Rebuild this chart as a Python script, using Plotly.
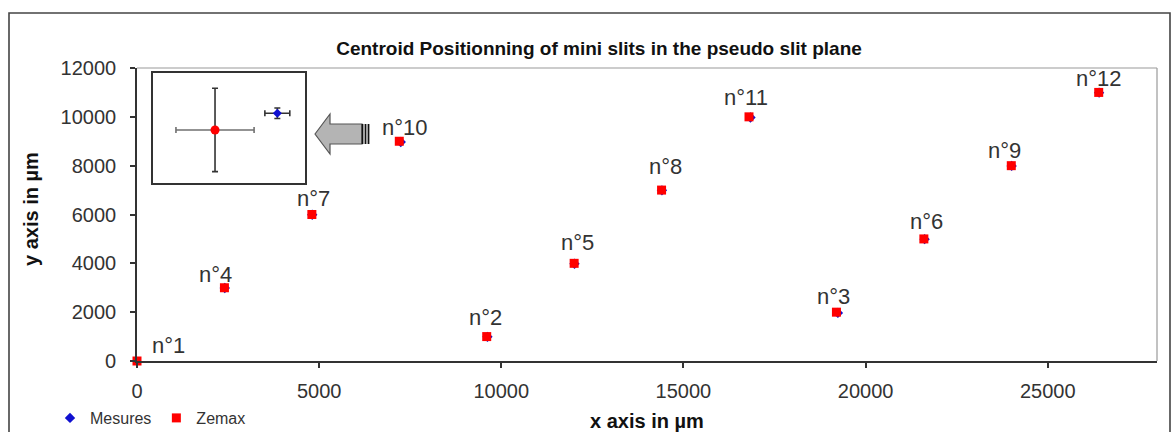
import plotly.graph_objects as go

# ---------------- data ----------------
slit_names = ["n°1", "n°2", "n°3", "n°4", "n°5", "n°6",
              "n°7", "n°8", "n°9", "n°10", "n°11", "n°12"]
zemax_x = [0, 9600, 19200, 2400, 12000, 21600, 4800, 14400, 24000, 7200, 16800, 26400]
zemax_y = [0, 1000, 2000, 3000, 4000, 5000, 6000, 7000, 8000, 9000, 10000, 11000]
mesures_x = [20, 9620, 19240, 2410, 12010, 21620, 4810, 14410, 24010, 7240, 16840, 26410]
mesures_y = [-10, 990, 1970, 2990, 3980, 4990, 5990, 6990, 7990, 8970, 9970, 10990]

x_ticks = [0, 5000, 10000, 15000, 20000, 25000]
x_tick_labels = ["0", "5000", "10000", "15000", "20000", "25000"]
y_ticks = [0, 2000, 4000, 6000, 8000, 10000, 12000]
y_tick_labels = ["0", "2000", "4000", "6000", "8000", "10000", "12000"]

# zoom inset (relative units)
inset_x = [0.408, 0.818]
inset_y = [0.482, 0.634]
inset_err_x = [0.257, 0.082]
inset_err_y = [0.379, 0.048]

# ---------------- layout helpers (pixel -> paper) ----------------
W, H = 1176, 432
L, R, T, B = 137, 19, 68, 71
PW, PH = W - L - R, H - T - B


def px_x(px):
    return (px - L) / PW


def px_y(py):
    return (H - B - py) / PH


# label offsets in px (dx right, dy up)
label_dx = [31, -1, -3, -9, 3, 3, 2, 4, -7, 6, -3, 0]
label_dy = [16, 19, 16, 13, 21, 17, 16, 24, 15, 14, 19, 14]

FONT = "Liberation Sans, Arial, sans-serif"
NARROW = "Liberation Sans Narrow, Liberation Sans, Arial, sans-serif"

fig = go.Figure()

fig.add_trace(go.Scatter(
    x=mesures_x, y=mesures_y, mode="markers", name="Mesures",
    marker=dict(symbol="diamond", size=8, color="#1010d0"),
    cliponaxis=False,
))
fig.add_trace(go.Scatter(
    x=zemax_x, y=zemax_y, mode="markers", name="Zemax",
    marker=dict(symbol="square", size=9, color="#ff0000"),
    cliponaxis=False,
))

# inset with error bars
fig.add_trace(go.Scatter(
    x=inset_x[:1], y=inset_y[:1], mode="markers", showlegend=False,
    xaxis="x2", yaxis="y2",
    marker=dict(symbol="circle", size=9, color="#ff0000"),
    error_x=dict(type="data", array=inset_err_x[:1], color="#707070", thickness=1.6, width=3),
    error_y=dict(type="data", array=inset_err_y[:1], color="#333333", thickness=1.6, width=3),
))
fig.add_trace(go.Scatter(
    x=inset_x[1:], y=inset_y[1:], mode="markers", showlegend=False,
    xaxis="x2", yaxis="y2",
    marker=dict(symbol="diamond", size=7, color="#1010d0"),
    error_x=dict(type="data", array=inset_err_x[1:], color="#333333", thickness=1.6, width=3),
    error_y=dict(type="data", array=inset_err_y[1:], color="#333333", thickness=1.6, width=3),
))

annotations = []
for name, x, y, dx, dy in zip(slit_names, zemax_x, zemax_y, label_dx, label_dy):
    annotations.append(dict(
        x=x, y=y, xref="x", yref="y", text=name, showarrow=False,
        xshift=dx, yshift=dy, xanchor="center", yanchor="middle",
        font=dict(family=FONT, size=22, color="#333333"),
    ))

annotations.append(dict(
    x=px_x(647), y=px_y(421), xref="paper", yref="paper",
    text="<b>x axis in µm</b>", showarrow=False, xanchor="center", yanchor="middle",
    font=dict(family=NARROW, size=20, color="#111111"),
))
annotations.append(dict(
    x=px_x(31), y=px_y(209), xref="paper", yref="paper",
    text="<b>y axis in µm</b>", showarrow=False, xanchor="center", yanchor="middle",
    textangle=-90,
    font=dict(family=NARROW, size=20, color="#111111"),
))

shapes = [
    # outer chart border
    dict(type="rect", xref="paper", yref="paper",
         x0=px_x(9), x1=px_x(1170), y0=px_y(450), y1=px_y(13),
         line=dict(color="#444444", width=1.6), layer="below"),
    # plot area top / right border
    dict(type="line", xref="paper", yref="paper", x0=0, x1=1, y0=1, y1=1,
         line=dict(color="#999999", width=1.2)),
    dict(type="line", xref="paper", yref="paper", x0=1, x1=1, y0=0, y1=1,
         line=dict(color="#999999", width=1.2)),
    # block arrow pointing left
    dict(type="path", xref="paper", yref="paper",
         path=("M {a},{b} L {c},{d} L {c},{e} L {f},{e} L {f},{g} L {c},{g} L {c},{h} Z").format(
             a=px_x(315), b=px_y(134),
             c=px_x(330), d=px_y(114),
             e=px_y(124), f=px_x(362),
             g=px_y(144), h=px_y(154)),
         fillcolor="#b4b4b4", line=dict(color="#555555", width=1.2)),
]
for xs in (362.5, 365.5, 368.5):
    shapes.append(dict(type="line", xref="paper", yref="paper",
                       x0=px_x(xs), x1=px_x(xs), y0=px_y(124), y1=px_y(144),
                       line=dict(color="#111111", width=1.8)))

fig.update_layout(
    width=W, height=H,
    margin=dict(l=L, r=R, t=T, b=B, autoexpand=False),
    paper_bgcolor="white", plot_bgcolor="white",
    title=dict(text="<b>Centroid Positionning of mini slits in the pseudo slit plane</b>",
               x=599 / W, y=1 - 48 / H, xanchor="center", yanchor="middle",
               font=dict(family=NARROW, size=19, color="#111111")),
    xaxis=dict(range=[0, 28000], tickvals=x_ticks, ticktext=x_tick_labels,
               showgrid=False, zeroline=False, automargin=False,
               showline=True, linecolor="#333333", linewidth=1.6,
               ticks="outside", ticklen=5, tickcolor="#333333", tickwidth=1.5,
               ticklabelstandoff=6,
               tickfont=dict(family=FONT, size=20, color="#333333")),
    yaxis=dict(range=[0, 12000], tickvals=y_ticks, ticktext=y_tick_labels,
               showgrid=False, zeroline=False, automargin=False,
               showline=True, linecolor="#333333", linewidth=1.6,
               ticks="outside", ticklen=5, tickcolor="#333333", tickwidth=1.5,
               ticklabelstandoff=10,
               tickfont=dict(family=FONT, size=20, color="#333333")),
    xaxis2=dict(domain=[px_x(153), px_x(305)], anchor="y2", range=[0, 1],
                showgrid=False, zeroline=False, showticklabels=False, ticks="",
                showline=True, mirror=True, linecolor="#333333", linewidth=1.6),
    yaxis2=dict(domain=[px_y(183), px_y(73)], anchor="x2", range=[0, 1],
                showgrid=False, zeroline=False, showticklabels=False, ticks="",
                showline=True, mirror=True, linecolor="#333333", linewidth=1.6),
    legend=dict(orientation="h", x=px_x(50), y=px_y(418), xanchor="left", yanchor="middle",
                font=dict(family=FONT, size=16, color="#333333"),
                itemwidth=30, bgcolor="rgba(0,0,0,0)", tracegroupgap=0),
    annotations=annotations,
    shapes=shapes,
    showlegend=True,
)

fig.write_html(
    "out.html",
    config={"displayModeBar": False},
    post_script="document.body.style.margin='0';document.body.style.overflow='hidden';",
)
